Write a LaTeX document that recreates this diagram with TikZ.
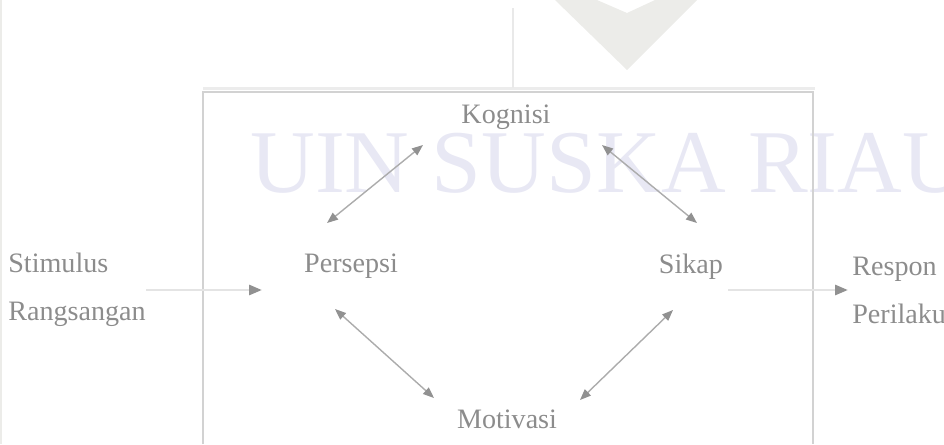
\documentclass[tikz,border=0pt]{standalone}
\usepackage{fontspec}
\setmainfont{Liberation Serif}
\usetikzlibrary{arrows.meta}

\definecolor{txtgray}{RGB}{140,140,140}
\definecolor{tipgray}{RGB}{145,145,145}
\definecolor{linegray}{RGB}{172,172,172}
\definecolor{boxgray}{RGB}{210,210,210}
\definecolor{flowgray}{RGB}{228,228,228}
\definecolor{markgray}{RGB}{236,236,233}
\definecolor{marklav}{RGB}{232,232,244}

\tikzset{
  lbl/.style={text=txtgray, font=\fontsize{16}{27.3}\selectfont, inner sep=0pt},
  dbl/.style={draw=linegray, line width=0.8pt,
    {Triangle[length=0.22cm,width=0.17cm,color=tipgray]}-{Triangle[length=0.22cm,width=0.17cm,color=tipgray]}},
  flow/.style={draw=flowgray, line width=1.6pt,
    -{Triangle[length=0.26cm,width=0.2cm,color=tipgray]}}
}

\begin{document}
\begin{tikzpicture}[x=0.02cm,y=-0.02cm]
	\useasboundingbox (0,0) rectangle (944,444);
	% watermark
	\fill[markgray] (555,0) -- (597,0) -- (627,13) -- (655,0) -- (697,0) -- (627,70) -- cycle;
	\node[anchor=base west, text=marklav, font=\fontsize{51}{51}\selectfont, inner sep=0pt] (mark) at (250,192) {UIN SUSKA RIAU};
	\draw[markgray, line width=0.6pt] (1,0) -- (1,444);
	% frame
	\draw[flowgray!70, line width=1.6pt] (203,88.5) -- (815,88.5);
	\draw[boxgray, line width=1.4pt] (203,444) -- (203,92) -- (813,92) -- (813,444);
	\coordinate (top) at (513,8);
	\coordinate (boxtop) at (513,88);
	\draw[boxgray!110!black!90, line width=0.9pt] (top) -- (boxtop);
	% labels
	\node[lbl] (kognisi) at (506,117) {Kognisi};
	\node[lbl] (persepsi) at (351,266) {Persepsi};
	\node[lbl] (sikap) at (691,267) {Sikap};
	\node[lbl] (motivasi) at (507,419) {Motivasi};
	\node[lbl, align=left, anchor=west] (stimulus) at (8,290) {Stimulus\\Rangsangan};
	\node[lbl, align=left, anchor=west] (respon) at (852,290) {Respon\\Perilaku};
	% arrow ends
	\coordinate (pk1) at (327,223);
	\coordinate (pk2) at (423,145);
	\coordinate (ks1) at (602,145);
	\coordinate (ks2) at (697,223);
	\coordinate (pm1) at (335,309);
	\coordinate (pm2) at (434,398);
	\coordinate (sm1) at (673,310);
	\coordinate (sm2) at (580,400);
	\coordinate (in) at (262,288);
	\coordinate (out) at (728,288);
	\draw[dbl] (pk1) -- (pk2);
	\draw[dbl] (ks1) -- (ks2);
	\draw[dbl] (pm1) -- (pm2);
	\draw[dbl] (sm1) -- (sm2);
	\draw[flow] (stimulus.east) -- (stimulus.east -| in);
	\draw[flow, shorten >=0.08cm] (out |- respon.west) -- (respon.west);
\end{tikzpicture}
\end{document}
